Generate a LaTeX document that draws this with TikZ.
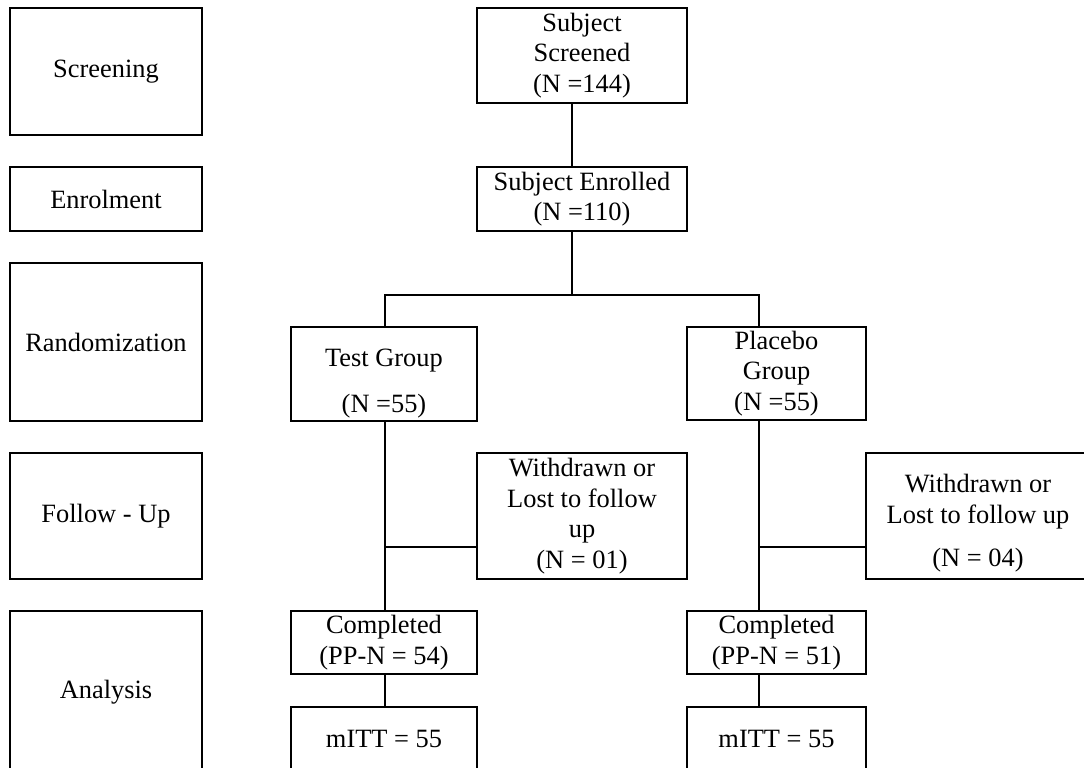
\documentclass[tikz,border=0pt]{standalone}
\usepackage{fontspec}
\setmainfont{Liberation Serif}
\begin{document}
\begin{tikzpicture}[x=1pt,y=-1pt,
  box/.style={draw=black, line width=2.9pt, inner sep=0pt, align=center,
    font=\fontsize{26.4}{30.5}\selectfont},
  conn/.style={draw=black, line width=2.9pt, line join=miter},
  colL/.style={box, minimum width=192pt},
  colC/.style={box, minimum width=210pt},
  colG/.style={box, minimum width=186pt},
  colP/.style={box, minimum width=179pt}]
\useasboundingbox (0,0) rectangle (1084,768);
% left phase column
\node[colL, minimum height=127pt] (scrL) at (106,71.5) {Screening};
\node[colL, minimum height=64pt]  (enrL) at (106,199) {Enrolment};
\node[colL, minimum height=158pt] (ranL) at (106,342) {Randomization};
\node[colL, minimum height=126pt] (folL) at (106,516) {Follow - Up};
\node[colL, minimum height=163pt] (anaL) at (106,692.5) {Analysis};
% main flow
\node[colC, minimum height=95pt] (scr) at (582,55.5) {Subject\\Screened\\(N =144)};
\node[colC, minimum height=64pt] (enr) at (582,199) {Subject Enrolled\\(N =110)};
\node[colG, minimum height=94pt] (test) at (384,374) {\rule{0pt}{37pt}Test Group\\[15pt](N =55)};
\node[colP, minimum height=93pt] (plac) at (776.5,373.5) {Placebo\\Group\\(N =55)};
\node[colC, minimum height=126pt] (wd1) at (582,516) {Withdrawn or\\Lost to follow\\up\\(N = 01)};
\node[box, minimum width=224pt, minimum height=126pt] (wd2) at (978,516) {\rule{0pt}{33pt}Withdrawn or\\Lost to follow up\\[13pt](N = 04)};
\node[colG, minimum height=63pt] (comp1) at (384,642.5) {Completed\\(PP-N = 54)};
\node[colP, minimum height=63pt] (comp2) at (776.5,642.5) {Completed\\(PP-N = 51)};
\node[colG, minimum height=64pt] (mitt1) at (384,739) {mITT = 55};
\node[colP, minimum height=64pt] (mitt2) at (776.5,739) {mITT = 55};
% junction coordinates
\coordinate (split) at (572,295);
\coordinate (tl) at (385,295);
\coordinate (pl) at (759,295);
\coordinate (j1) at (385,547);
\coordinate (j2) at (759,547);
% connectors
\draw[conn] (scr.south -| split) -- (enr.north -| split);
\draw[conn] (enr.south -| split) -- (split);
\draw[conn] (test.north -| tl) -- (tl) -- (pl) -- (plac.north -| pl);
\draw[conn] (test.south -| tl) -- (comp1.north -| tl);
\draw[conn] (j1) -- (j1 -| wd1.west);
\draw[conn] (comp1.south -| tl) -- (mitt1.north -| tl);
\draw[conn] (plac.south -| pl) -- (comp2.north -| pl);
\draw[conn] (j2) -- (j2 -| wd2.west);
\draw[conn] (comp2.south -| pl) -- (mitt2.north -| pl);
\end{tikzpicture}
\end{document}
